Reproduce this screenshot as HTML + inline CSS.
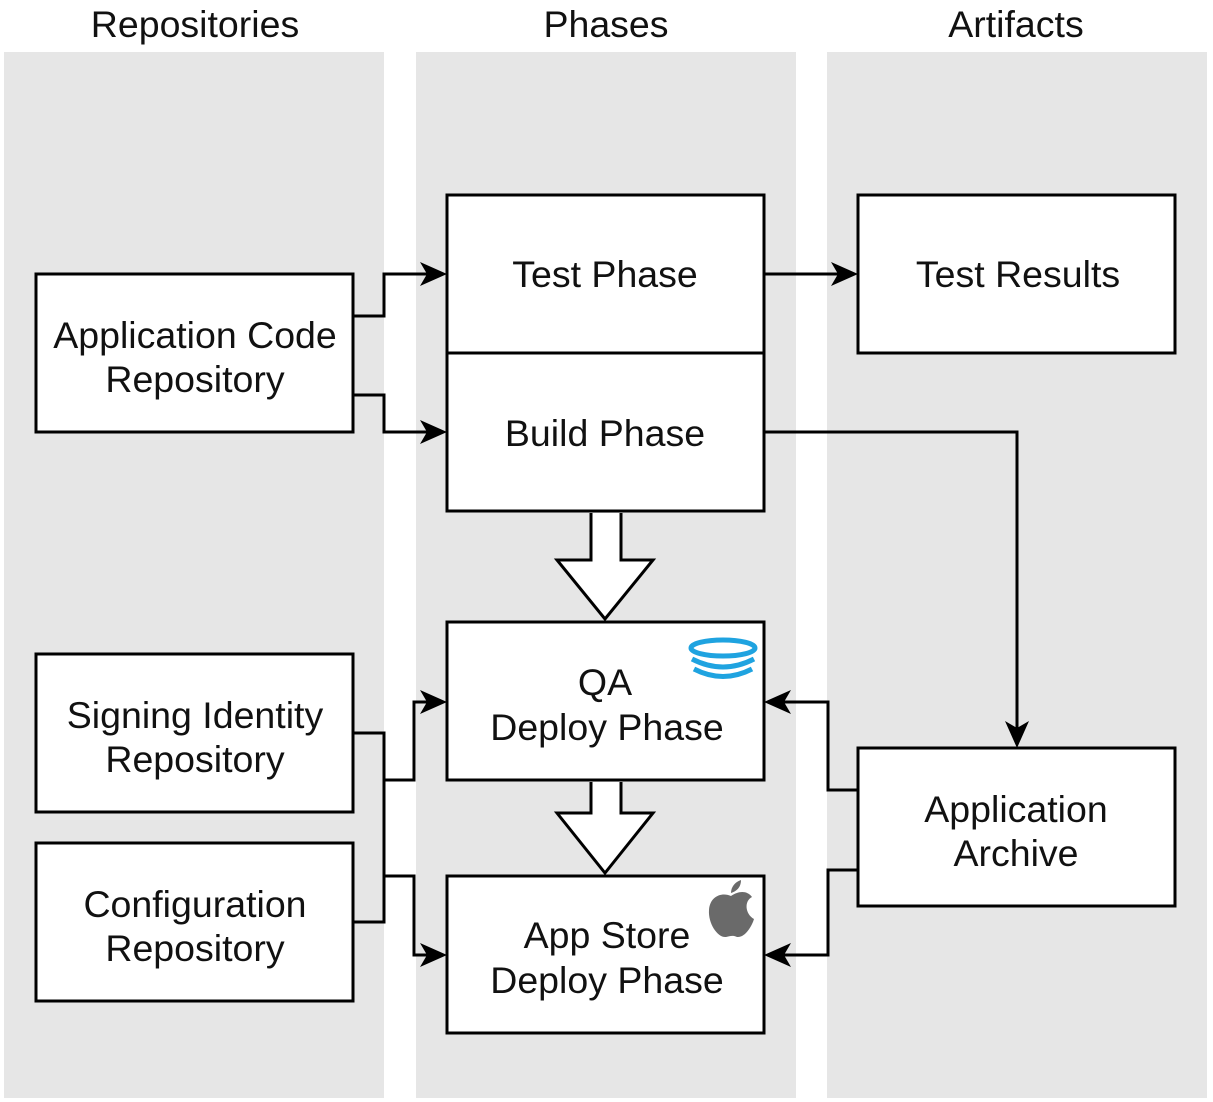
<!DOCTYPE html>
<html><head><meta charset="utf-8"><style>
html,body{margin:0;padding:0;background:#fff}
svg{display:block}
text{font-family:"Liberation Sans",sans-serif;font-size:37.5px;fill:#111}
</style></head><body>
<svg width="1213" height="1102" viewBox="0 0 1213 1102" xmlns="http://www.w3.org/2000/svg">
<rect x="4" y="52" width="380" height="1046" fill="#e6e6e6"/>
<rect x="416" y="52" width="380" height="1046" fill="#e6e6e6"/>
<rect x="827" y="52" width="380" height="1046" fill="#e6e6e6"/>
<text x="195" y="37" text-anchor="middle">Repositories</text>
<text x="606" y="37" text-anchor="middle">Phases</text>
<text x="1016" y="37" text-anchor="middle">Artifacts</text>

<g fill="#fff" stroke="#000" stroke-width="3">
<rect x="36" y="274" width="317" height="158"/>
<rect x="447" y="195" width="317" height="158"/>
<rect x="447" y="353" width="317" height="158"/>
<rect x="858" y="195" width="317" height="158"/>
<rect x="447" y="622" width="317" height="158"/>
<rect x="447" y="876" width="317" height="157"/>
<rect x="36" y="654" width="317" height="158"/>
<rect x="36" y="843" width="317" height="158"/>
<rect x="858" y="748" width="317" height="158"/>
<path d="M591 513 V560 H557 L605 619 L653 560 H621 V513"/>
<path d="M591 782 V813 H557 L605 873 L653 813 H621 V782"/>
</g>
<g fill="none" stroke="#000" stroke-width="3">
<path d="M353 316 H384 V274 H432"/>
<path d="M353 395 H384 V432 H432"/>
<path d="M764 274 H843"/>
<path d="M764 432 H1017 V733"/>
<path d="M353 733 H384 V922 H353"/>
<path d="M384 780 H414 V702 H432"/>
<path d="M384 876 H414 V955 H432"/>
<path d="M858 790 H828 V702 H779"/>
<path d="M858 870 H828 V955 H779"/>
</g>
<g fill="#000">
<path d="M447 274 L420 262 L427 274 L420 286Z"/>
<path d="M447 432 L420 420 L427 432 L420 444Z"/>
<path d="M858 274 L831 262 L838 274 L831 286Z"/>
<path d="M1017 748 L1005 721 L1017 728 L1029 721Z"/>
<path d="M447 702 L420 690 L427 702 L420 714Z"/>
<path d="M447 955 L420 943 L427 955 L420 967Z"/>
<path d="M764 702 L791 690 L784 702 L791 714Z"/>
<path d="M764 955 L791 943 L784 955 L791 967Z"/>
</g>
<g fill="none" stroke="#1fa3e0" stroke-width="5">
<ellipse cx="723" cy="648" rx="32" ry="8"/>
<path d="M692 659 Q723 675 754 659"/>
<path d="M694 669 Q723 684 752 669"/>
</g>
<g fill="#6a6a6a">
<path d="M731 896 C722 892 710 896 709 910 C708 924 718 938 726 937 C730 936 733 935 737 937 C745 938 752 926 754 919 C745 914 744 901 752 897 C747 890 738 891 731 896Z"/>
<path d="M731 893 C731 887 735 882 741 880 C741 887 737 891 731 893Z"/>
</g>
<g text-anchor="middle">
<text x="195" y="348">Application Code</text>
<text x="195" y="392">Repository</text>
<text x="605" y="287">Test Phase</text>
<text x="605" y="446">Build Phase</text>
<text x="1018" y="287">Test Results</text>
<text x="605" y="695">QA</text>
<text x="607" y="740">Deploy Phase</text>
<text x="607" y="948">App Store</text>
<text x="607" y="993">Deploy Phase</text>
<text x="195" y="728">Signing Identity</text>
<text x="195" y="772">Repository</text>
<text x="195" y="917">Configuration</text>
<text x="195" y="961">Repository</text>
<text x="1016" y="822">Application</text>
<text x="1016" y="866">Archive</text>
</g>
</svg>
</body></html>
